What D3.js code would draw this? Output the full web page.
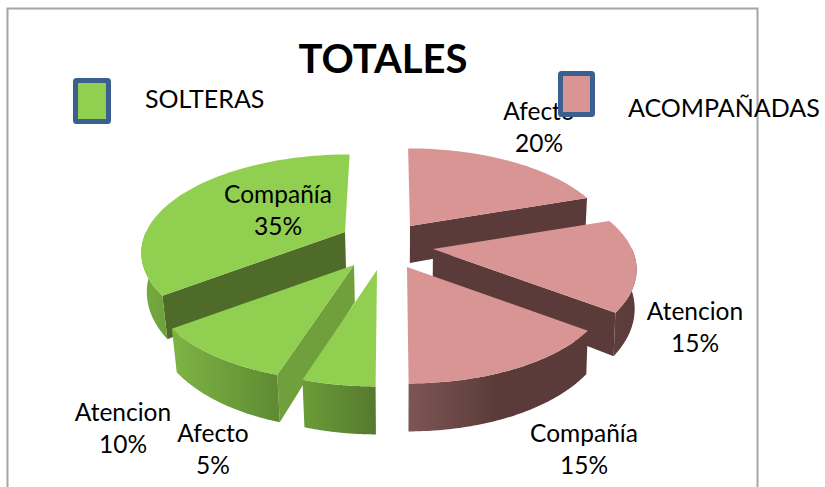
<!DOCTYPE html>
<html>
<head>
<meta charset="utf-8">
<script src="https://cdn.jsdelivr.net/npm/d3@7"></script>
<style>
html,body{margin:0;padding:0;background:#fff;overflow:hidden}
text{font-family:Lato,"Open Sans",sans-serif;fill:#000}
</style>
</head>
<body>
<svg id="chart" width="825" height="487"></svg>
<script>
const title = "TOTALES";
const categories = ["Afecto", "Atencion", "Compañía", "Afecto", "Atencion", "Compañía"];
const values = [20, 15, 15, 5, 10, 35];
const groups = ["ACOMPAÑADAS", "ACOMPAÑADAS", "ACOMPAÑADAS", "SOLTERAS", "SOLTERAS", "SOLTERAS"];
const legendNames = ["SOLTERAS", "ACOMPAÑADAS"];

// Layout of the exploded 3-D pie (not data)
const apexes = [[410, 226], [433, 249], [407, 267], [377, 270], [354, 265], [345, 232]];
const labelPos = [[539, 112], [695, 312], [584, 434], [213, 434], [123, 413], [278, 195]];
const drawOrder = [0, 1, 2, 5, 4, 3];
const RX = 199, RY = 97, PERSP = 0.2, VCX = 391;
const palette = {
  SOLTERAS: {top: "#90CF50", face: ["#4E6B2A", "#70A03C", "#4E6B2A"]},
  ACOMPAÑADAS: {top: "#D89593", face: ["#5A3B39", "#5A3B39", "#5A3B39"]}
};
const wallStops = [
  [["0%", "#5A3B39"], ["100%", "#5A3B39"]],
  [["0%", "#5E3F3D"], ["100%", "#5A3B39"]],
  [["0%", "#7D5654"], ["50%", "#5A3B39"], ["100%", "#5A3B39"]],
  [["0%", "#6C9C39"], ["100%", "#55792D"]],
  [["0%", "#7EB444"], ["100%", "#5E8A33"]],
  [["0%", "#76AC3F"], ["100%", "#6EA03C"]]
];

const svg = d3.select("#chart");
const defs = svg.append("defs");
const arcs = d3.pie().sort(null).value(d => d)(values);

// project polar angle + radius on the slice plane to the screen
function project(i, theta, r = 1, lower = false) {
  const [ax, ay] = apexes[i];
  const u = r * Math.sin(theta), v = -r * Math.cos(theta);
  const f = 1 + PERSP * v;
  let x = ax + RX * u * f + (ax - VCX) * 0.1 * v;
  let y = ay + RY * v * f;
  if (lower) {
    x -= (x - VCX) * (x < VCX ? 0.022 : 0.008);
    y += 37 + 11 * v;
  }
  return [x, y];
}
const line = d3.line();
const angleSteps = (a, b) => d3.range(0, 61).map(k => a + (b - a) * k / 60);

// frame
svg.append("path")
  .attr("d", "M7.5,487V8.5H757.5V487")
  .attr("fill", "none").attr("stroke", "#A6A6A6").attr("stroke-width", 2);

function addLabel(i) {
  const [x, y] = labelPos[i];
  const t = svg.append("text").attr("text-anchor", "middle").attr("font-size", 24.5);
  t.append("tspan").attr("x", x).attr("y", y + 8).text(categories[i]);
  t.append("tspan").attr("x", x).attr("y", y + 40).text(values[i] + "%");
}

// data labels go under the slices and legend keys
[0, 1, 2, 3, 4].forEach(addLabel);

// slices
drawOrder.forEach(i => {
  const a = arcs[i], col = palette[groups[i]];
  const g = svg.append("g");
  const s = a.startAngle, e = a.endAngle;

  // visible cut faces
  const faces = [];
  if (Math.sin(s) < -1e-6) faces.push(s);
  if (Math.sin(e) > 1e-6) faces.push(e);
  faces.forEach(th => {
    const pts = [project(i, th, 0), project(i, th, 1), project(i, th, 1, true), project(i, th, 0, true)];
    const dark = (i === 4) ? col.face[1] : col.face[0];
    g.append("path").attr("d", line(pts) + "Z").attr("fill", dark);
  });

  // outer wall, only on the front half
  const ws = Math.max(s, Math.PI / 2), we = Math.min(e, 3 * Math.PI / 2);
  if (we > ws) {
    const gid = "wall" + i;
    const lg = defs.append("linearGradient").attr("id", gid);
    lg.selectAll("stop").data(wallStops[i]).join("stop")
      .attr("offset", d => d[0]).attr("stop-color", d => d[1]);
    const th = angleSteps(ws, we);
    const pts = th.map(t => project(i, t)).concat(th.slice().reverse().map(t => project(i, t, 1, true)));
    g.append("path").attr("d", line(pts) + "Z").attr("fill", `url(#${gid})`);
  }

  // top face
  const top = [project(i, s, 0)].concat(angleSteps(s, e).map(t => project(i, t)));
  g.append("path").attr("d", line(top) + "Z").attr("fill", col.top);
});

// label on top of its slice
addLabel(5);

// title
svg.append("text").attr("x", 383).attr("y", 73).attr("text-anchor", "middle")
  .attr("font-size", 40).attr("font-weight", 700).text(title);

// legend
const legendBoxes = [[75.5, 80.5, 33, 41], [560.5, 73.5, 32, 41]];
const legendText = [[145, 108], [628, 117]];
const legendFill = ["#90CF50", "#D89593"];
legendNames.forEach((name, i) => {
  const [x, y, w, h] = legendBoxes[i];
  svg.append("rect").attr("x", x).attr("y", y).attr("width", w).attr("height", h).attr("rx", 1)
    .attr("fill", legendFill[i]).attr("stroke", "#3B5F8F").attr("stroke-width", 5);
  svg.append("text").attr("x", legendText[i][0]).attr("y", legendText[i][1])
    .attr("font-size", 25).text(name);
});
</script>
</body>
</html>
